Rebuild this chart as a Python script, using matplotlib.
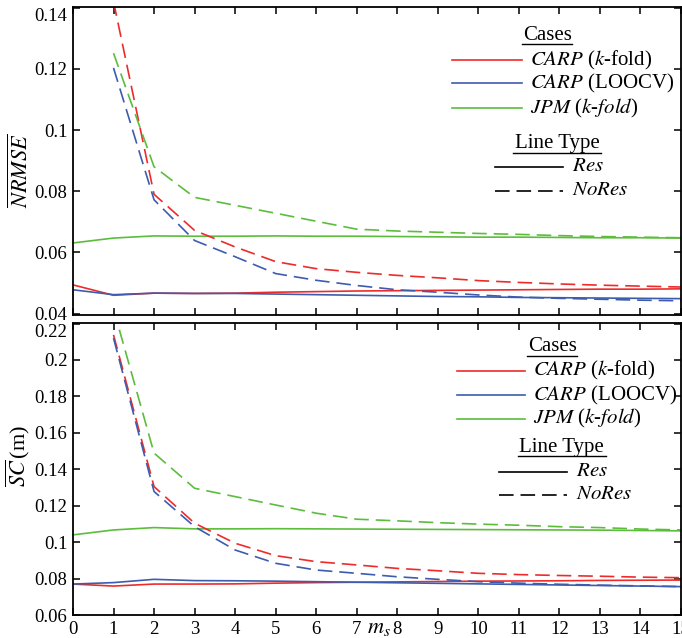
import numpy as np
import matplotlib
matplotlib.use("Agg")
import matplotlib.pyplot as plt

plt.rcParams['font.family'] = ['Liberation Serif', 'DejaVu Serif']
plt.rcParams['mathtext.fontset'] = 'stix'
plt.rcParams['lines.scale_dashes'] = False

# m_s values
ms = np.arange(0, 16)
ms_nores = np.arange(1, 16)

# NRMSE (top panel)
nrmse_carp_kfold_res = [0.0494, 0.0460, 0.0467, 0.0466, 0.0467, 0.0470, 0.0472, 0.0474, 0.0475, 0.0476,
                        0.0477, 0.0478, 0.0479, 0.0480, 0.0480, 0.0481]
nrmse_carp_loocv_res = [0.0478, 0.0462, 0.0467, 0.0466, 0.0466, 0.0464, 0.0462, 0.0460, 0.0458, 0.0456,
                        0.0455, 0.0453, 0.0452, 0.0451, 0.0450, 0.0449]
nrmse_jpm_res = [0.0631, 0.0647, 0.0654, 0.0653, 0.0653, 0.0654, 0.0653, 0.0653, 0.0652, 0.0651,
                 0.0650, 0.0650, 0.0649, 0.0648, 0.0648, 0.0647]
nrmse_carp_kfold_nores = [0.1420, 0.0790, 0.0672, 0.0618, 0.0570, 0.0547, 0.0535, 0.0525, 0.0517, 0.0508,
                          0.0502, 0.0497, 0.0493, 0.0490, 0.0487]
nrmse_carp_loocv_nores = [0.1203, 0.0772, 0.0639, 0.0586, 0.0531, 0.0509, 0.0492, 0.0478, 0.0470, 0.0461,
                          0.0454, 0.0450, 0.0447, 0.0444, 0.0442]
nrmse_jpm_nores = [0.1251, 0.0880, 0.0780, 0.0754, 0.0728, 0.0702, 0.0676, 0.0670, 0.0666, 0.0662,
                   0.0659, 0.0655, 0.0652, 0.0650, 0.0648]

# SC (bottom panel)
sc_carp_kfold_res = [0.0770, 0.0759, 0.0770, 0.0770, 0.0771, 0.0775, 0.0778, 0.0780, 0.0782, 0.0784,
                     0.0786, 0.0787, 0.0788, 0.0790, 0.0791, 0.0792]
sc_carp_loocv_res = [0.0770, 0.0778, 0.0796, 0.0789, 0.0788, 0.0786, 0.0783, 0.0780, 0.0777, 0.0774,
                     0.0771, 0.0768, 0.0765, 0.0762, 0.0759, 0.0756]
sc_jpm_res = [0.1040, 0.1067, 0.1080, 0.1073, 0.1073, 0.1074, 0.1073, 0.1072, 0.1071, 0.1070,
              0.1069, 0.1068, 0.1067, 0.1066, 0.1064, 0.1062]
sc_carp_kfold_nores = [0.2138, 0.1305, 0.1104, 0.0994, 0.0926, 0.0893, 0.0875, 0.0856, 0.0843, 0.0829,
                       0.0822, 0.0817, 0.0813, 0.0808, 0.0805]
sc_carp_loocv_nores = [0.2120, 0.1278, 0.1085, 0.0957, 0.0884, 0.0847, 0.0829, 0.0810, 0.0796, 0.0783,
                       0.0775, 0.0769, 0.0764, 0.0760, 0.0756]
sc_jpm_nores = [0.2280, 0.1489, 0.1296, 0.1250, 0.1204, 0.1159, 0.1126, 0.1117, 0.1107, 0.1099,
                0.1093, 0.1085, 0.1080, 0.1072, 0.1067]

case_labels = [r'$\mathit{CARP}$ ($\mathit{k}$-fold)', r'$\mathit{CARP}$ (LOOCV)',
               r'$\mathit{JPM}$ ($\mathit{k}$-$\mathit{fold}$)']
colors = ['#ee2b2b', '#3d5cae', '#5cbd3c']
xticks = list(range(0, 16))
top_yticks = [0.04, 0.06, 0.08, 0.1, 0.12, 0.14]
bot_yticks = [0.06, 0.08, 0.1, 0.12, 0.14, 0.16, 0.18, 0.2, 0.22]

LW = 1.2
DASH = (10.5, 5)
FS = 13.5
LFS = 15


def style_axes(ax, yticks, ylim):
    ax.set_xlim(0, 15)
    ax.set_ylim(*ylim)
    ax.set_xticks(xticks)
    ax.set_yticks(yticks)
    ax.set_yticklabels(['%g' % v for v in yticks])
    ax.tick_params(direction='in', length=5, width=1.1, top=True, right=True,
                   labelsize=FS, pad=4)
    for sp in ax.spines.values():
        sp.set_linewidth(1.3)
    # top label sits just below the frame edge
    ax.get_yticklabels()[-1].set_verticalalignment('top')


def draw_legend(ax, pos):
    cx, cy, uy, rows, lx0, lx1, tx, ltx, lty, luy, rx0, rx1, rtx, ry = pos
    ax.text(cx, cy, 'Cases', transform=ax.transAxes, ha='center', va='center', fontsize=LFS)
    ax.plot([cx - 0.041, cx + 0.041], [uy, uy], transform=ax.transAxes, color='k', lw=1.0,
            clip_on=False)
    for y, c, lab in zip(rows, colors, case_labels):
        ax.plot([lx0, lx1], [y, y], transform=ax.transAxes, color=c, lw=LW, clip_on=False)
        ax.text(tx, y, lab, transform=ax.transAxes, ha='left', va='center', fontsize=LFS)
    ax.text(ltx, lty, 'Line Type', transform=ax.transAxes, ha='center', va='center', fontsize=LFS)
    ax.plot([ltx - 0.072, ltx + 0.072], [luy, luy], transform=ax.transAxes, color='k', lw=1.0,
            clip_on=False)
    ax.plot([rx0, rx1], [ry[0], ry[0]], transform=ax.transAxes, color='k', lw=LW)
    ax.text(rtx, ry[0], r'$\mathit{Res}$', transform=ax.transAxes, ha='left', va='center',
            fontsize=LFS)
    ax.plot([rx0, rx1], [ry[1], ry[1]], transform=ax.transAxes, color='k', lw=LW, dashes=DASH)
    ax.text(rtx, ry[1], r'$\mathit{NoRes}$', transform=ax.transAxes, ha='left', va='center',
            fontsize=LFS)


fig = plt.figure(figsize=(6.82, 6.38), dpi=100)
ax1 = fig.add_axes([0.107, 0.506, 0.8915, 0.483])
ax2 = fig.add_axes([0.107, 0.036, 0.8915, 0.458])

for ax, res, nores in [
    (ax1, [nrmse_carp_kfold_res, nrmse_carp_loocv_res, nrmse_jpm_res],
     [nrmse_carp_kfold_nores, nrmse_carp_loocv_nores, nrmse_jpm_nores]),
    (ax2, [sc_carp_kfold_res, sc_carp_loocv_res, sc_jpm_res],
     [sc_carp_kfold_nores, sc_carp_loocv_nores, sc_jpm_nores]),
]:
    for y, c in zip(res, colors):
        ax.plot(ms, y, color=c, lw=LW)
    for y, c in zip(nores, colors):
        ax.plot(ms_nores, y, color=c, lw=LW, dashes=DASH)

style_axes(ax1, top_yticks, (0.0395, 0.1402))
style_axes(ax2, bot_yticks, (0.06, 0.2204))
ax1.tick_params(labelbottom=False)

ax1.set_ylabel(r'$\overline{NRMSE}$', fontsize=16)
ax1.yaxis.set_label_coords(-0.066, 0.47)
ax2.set_ylabel(r'$\overline{\mathit{SC}}\,$(m)', fontsize=16)
ax2.yaxis.set_label_coords(-0.067, 0.545)

ax2.text(7.55, -0.046, r'$m_s$', transform=ax2.get_xaxis_transform(), ha='center', va='center',
         fontsize=16)

draw_legend(ax1, (0.780, 0.909, 0.880, [0.828, 0.753, 0.672], 0.623, 0.738, 0.752,
                  0.796, 0.558, 0.527, 0.694, 0.806, 0.821, [0.481, 0.403]))
draw_legend(ax2, (0.788, 0.918, 0.888, [0.836, 0.753, 0.671], 0.632, 0.743, 0.757,
                  0.804, 0.572, 0.543, 0.701, 0.812, 0.827, [0.490, 0.411]))

fig.savefig('out.png', dpi=100)
